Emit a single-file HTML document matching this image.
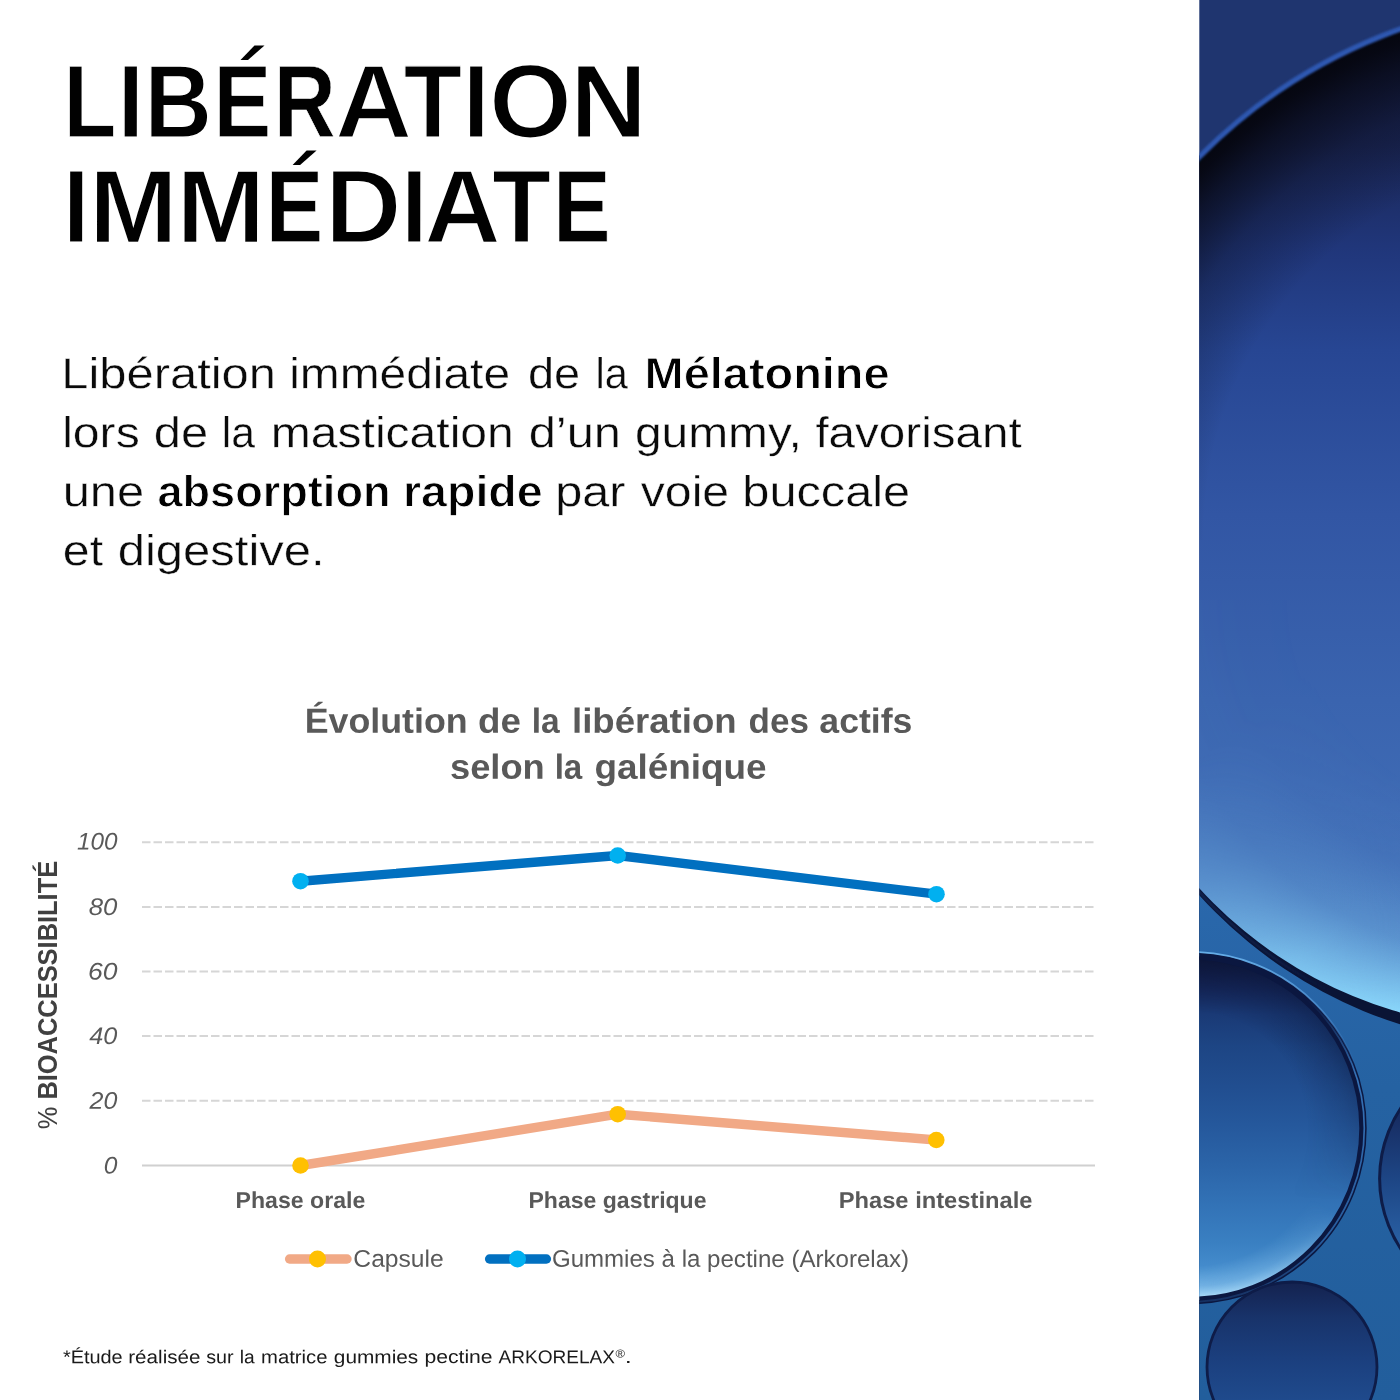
<!DOCTYPE html>
<html lang="fr">
<head>
<meta charset="utf-8">
<title>Libération immédiate</title>
<style>
html,body{margin:0;padding:0;background:#fff;}
body{width:1400px;height:1400px;overflow:hidden;font-family:"Liberation Sans",sans-serif;}
svg{display:block;position:absolute;left:0;top:0;}
text{font-family:"Liberation Sans",sans-serif;}
.h1{font-weight:700;fill:#000;}
.p{font-size:42.5px;fill:#0a0a0a;}
.pb{font-size:42.5px;font-weight:700;fill:#000;}
.ct{font-size:35px;font-weight:700;fill:#595959;}
.yl{font-size:24px;font-style:italic;fill:#595959;}
.xl{font-size:23px;font-weight:700;fill:#595959;}
.lg{font-size:24px;fill:#595959;}
.ya{font-size:27.3px;font-weight:700;fill:#404040;}
.fn{fill:#1a1a1a;}
</style>
</head>
<body>
<svg width="1400" height="1400" viewBox="0 0 1400 1400">
<defs>
<clipPath id="clipPhoto"><rect x="1199.3" y="0" width="201" height="1400"/></clipPath>
<clipPath id="clipLow"><rect x="1199" y="850" width="201" height="550"/></clipPath>
<clipPath id="clipB1"><circle cx="1581" cy="535" r="538"/></clipPath>
<clipPath id="clipB1l"><circle cx="1528" cy="593" r="444"/></clipPath>
<clipPath id="clipB2"><circle cx="1190.7" cy="1128.2" r="172"/></clipPath>
<clipPath id="clipB3"><circle cx="1292" cy="1367" r="85"/></clipPath>
<clipPath id="clipB4"><circle cx="1507" cy="1178.5" r="127.4"/></clipPath>
<filter id="bl3" x="-20%" y="-20%" width="140%" height="140%"><feGaussianBlur stdDeviation="3"/></filter>
<filter id="bl1" x="-20%" y="-20%" width="140%" height="140%"><feGaussianBlur stdDeviation="1.2"/></filter>
<filter id="bl8" x="-20%" y="-20%" width="140%" height="140%"><feGaussianBlur stdDeviation="8"/></filter>
<filter id="bl20" x="-20%" y="-20%" width="140%" height="140%"><feGaussianBlur stdDeviation="20"/></filter>
<!-- big bubble interior vertical gradient -->
<linearGradient id="gB1" gradientUnits="userSpaceOnUse" x1="0" y1="0" x2="0" y2="1030">
<stop offset="0" stop-color="#141b40"/>
<stop offset="0.14" stop-color="#1a2656"/>
<stop offset="0.24" stop-color="#20367a"/>
<stop offset="0.34" stop-color="#274693"/>
<stop offset="0.50" stop-color="#3256a4"/>
<stop offset="0.68" stop-color="#3a64af"/>
<stop offset="0.78" stop-color="#3e6ab4"/>
<stop offset="1" stop-color="#4270b8"/>
</linearGradient>
<!-- radial dark shadow below upper rim -->
<radialGradient id="gB1sh" gradientUnits="userSpaceOnUse" cx="1581" cy="535" r="538">
<stop offset="0" stop-color="#05060f" stop-opacity="0"/>
<stop offset="0.70" stop-color="#05060f" stop-opacity="0"/>
<stop offset="0.84" stop-color="#05060f" stop-opacity="0.3"/>
<stop offset="0.93" stop-color="#05060f" stop-opacity="0.68"/>
<stop offset="0.975" stop-color="#05060f" stop-opacity="0.93"/>
<stop offset="1" stop-color="#05060f" stop-opacity="1"/>
</radialGradient>
<!-- radial glow above lower rim -->
<radialGradient id="gB1gl" gradientUnits="userSpaceOnUse" cx="1517.7" cy="598.1" r="430.8">
<stop offset="0" stop-color="#8ad6fa" stop-opacity="0"/>
<stop offset="0.488" stop-color="#8ad6fa" stop-opacity="0"/>
<stop offset="0.674" stop-color="#8ad6fa" stop-opacity="0.1"/>
<stop offset="0.837" stop-color="#8ad6fa" stop-opacity="0.4"/>
<stop offset="0.930" stop-color="#8ad6fa" stop-opacity="0.75"/>
<stop offset="0.986" stop-color="#8ad6fa" stop-opacity="0.95"/>
<stop offset="1" stop-color="#8ad6fa" stop-opacity="1"/>
</radialGradient>
<linearGradient id="gGlMask" gradientUnits="userSpaceOnUse" x1="1199" y1="760" x2="1400" y2="1010">
<stop offset="0" stop-color="#fff" stop-opacity="0.08"/>
<stop offset="0.31" stop-color="#fff" stop-opacity="0.36"/>
<stop offset="0.68" stop-color="#fff" stop-opacity="0.8"/>
<stop offset="1" stop-color="#fff" stop-opacity="1"/>
</linearGradient>
<mask id="mGl" maskUnits="userSpaceOnUse" x="1199" y="600" width="201" height="460"><rect x="1199" y="600" width="201" height="460" fill="url(#gGlMask)"/></mask>
<clipPath id="clipBandIn"><path clip-rule="evenodd" d="M1199 850H1400V1400H1199Z M1947.4 598.1A429.7 429.7 0 1 0 1088 598.1A429.7 429.7 0 1 0 1947.4 598.1Z"/></clipPath>
<linearGradient id="gStreak" gradientUnits="userSpaceOnUse" x1="1199" y1="0" x2="1340" y2="0">
<stop offset="0" stop-color="#24488c" stop-opacity="0.5"/>
<stop offset="0.6" stop-color="#1c3c7c" stop-opacity="0.3"/>
<stop offset="1" stop-color="#1c3c7c" stop-opacity="0"/>
</linearGradient>
<linearGradient id="gLow" gradientUnits="userSpaceOnUse" x1="0" y1="880" x2="0" y2="1400">
<stop offset="0" stop-color="#2a68ac"/>
<stop offset="0.4" stop-color="#2562a2"/>
<stop offset="1" stop-color="#225e9c"/>
</linearGradient>
<linearGradient id="gB2" gradientUnits="userSpaceOnUse" x1="0" y1="956" x2="0" y2="1300">
<stop offset="0" stop-color="#0e1638"/>
<stop offset="0.023" stop-color="#101a40"/>
<stop offset="0.093" stop-color="#15275a"/>
<stop offset="0.17" stop-color="#1a3a76"/>
<stop offset="0.26" stop-color="#1d4584"/>
<stop offset="0.38" stop-color="#214e90"/>
<stop offset="0.49" stop-color="#25589c"/>
<stop offset="0.605" stop-color="#2b64a8"/>
<stop offset="0.72" stop-color="#3272b6"/>
<stop offset="0.835" stop-color="#3a80c2"/>
<stop offset="0.93" stop-color="#4890d0"/>
<stop offset="1" stop-color="#5098d6"/>
</linearGradient>
<radialGradient id="gB2gl" gradientUnits="userSpaceOnUse" cx="1190.7" cy="1128.2" r="172">
<stop offset="0" stop-color="#b4e2fb" stop-opacity="0"/>
<stop offset="0.8" stop-color="#a4d8f8" stop-opacity="0"/>
<stop offset="0.92" stop-color="#a4d8f8" stop-opacity="0.45"/>
<stop offset="1" stop-color="#b8e4fc" stop-opacity="1"/>
</radialGradient>
<linearGradient id="gB2mask" gradientUnits="userSpaceOnUse" x1="1330" y1="1120" x2="1215" y2="1300">
<stop offset="0" stop-color="#000"/>
<stop offset="0.35" stop-color="#000"/>
<stop offset="0.7" stop-color="#888"/>
<stop offset="1" stop-color="#fff"/>
</linearGradient>
<mask id="mB2" maskUnits="userSpaceOnUse" x="1199" y="940" width="201" height="380"><rect x="1199" y="940" width="201" height="380" fill="url(#gB2mask)"/></mask>
<linearGradient id="gB2hl" gradientUnits="userSpaceOnUse" x1="0" y1="952" x2="0" y2="1075">
<stop offset="0" stop-color="#66aee8" stop-opacity="1"/>
<stop offset="0.45" stop-color="#4f92d4" stop-opacity="0.8"/>
<stop offset="1" stop-color="#2f6cb2" stop-opacity="0"/>
</linearGradient>
<linearGradient id="gB2mid" gradientUnits="userSpaceOnUse" x1="0" y1="1000" x2="0" y2="1300">
<stop offset="0" stop-color="#2f6cb2" stop-opacity="0"/>
<stop offset="0.25" stop-color="#3a7cc4" stop-opacity="0.9"/>
<stop offset="0.8" stop-color="#2f6cb2" stop-opacity="0.8"/>
<stop offset="1" stop-color="#2f6cb2" stop-opacity="0.3"/>
</linearGradient>
<radialGradient id="gB2sh" gradientUnits="userSpaceOnUse" cx="1190.7" cy="1128.2" r="172">
<stop offset="0" stop-color="#0a1436" stop-opacity="0"/>
<stop offset="0.68" stop-color="#0a1436" stop-opacity="0"/>
<stop offset="0.9" stop-color="#0a1436" stop-opacity="0.3"/>
<stop offset="1" stop-color="#0a1436" stop-opacity="0.5"/>
</radialGradient>
<linearGradient id="gB2shm" gradientUnits="userSpaceOnUse" x1="0" y1="1040" x2="0" y2="1200">
<stop offset="0" stop-color="#fff" stop-opacity="1"/>
<stop offset="1" stop-color="#fff" stop-opacity="0"/>
</linearGradient>
<mask id="mB2sh" maskUnits="userSpaceOnUse" x="1199" y="940" width="201" height="380"><rect x="1199" y="940" width="201" height="380" fill="url(#gB2shm)"/></mask>
<linearGradient id="gB3" gradientUnits="userSpaceOnUse" x1="0" y1="1282" x2="0" y2="1400">
<stop offset="0" stop-color="#14224f"/>
<stop offset="0.3" stop-color="#18336a"/>
<stop offset="0.65" stop-color="#1b3f7e"/>
<stop offset="1" stop-color="#1f4a8c"/>
</linearGradient>
<linearGradient id="gB4" gradientUnits="userSpaceOnUse" x1="0" y1="1105" x2="0" y2="1250">
<stop offset="0" stop-color="#16285c"/>
<stop offset="0.5" stop-color="#1d4584"/>
<stop offset="1" stop-color="#2a62a6"/>
</linearGradient>
</defs>
<rect x="0" y="0" width="1400" height="1400" fill="#ffffff"/>
<!-- PHOTO: blue bubbles -->
<g id="photo" clip-path="url(#clipPhoto)">
<rect x="1199" y="0" width="201" height="1400" fill="#1f356f"/>
<!-- big bubble -->
<g clip-path="url(#clipB1)">
<rect x="1199" y="0" width="201" height="1060" fill="url(#gB1)"/>
<rect x="1199" y="0" width="201" height="540" fill="url(#gB1sh)"/>
<rect x="1199" y="600" width="201" height="460" fill="url(#gB1gl)" mask="url(#mGl)"/>
</g>
<circle cx="1581" cy="535" r="537.2" fill="none" stroke="#2e58b2" stroke-width="5.2" filter="url(#bl1)"/>
<!-- lower background: outside lower arc -->
<g clip-path="url(#clipLow)">
<path fill-rule="evenodd" fill="#0a1435" d="M1199 850H1400V1400H1199Z M1948.5 598.1A430.8 430.8 0 1 0 1086.9 598.1A430.8 430.8 0 1 0 1948.5 598.1Z"/>
<circle cx="1527.7" cy="593.85" r="443.6" fill="none" stroke="url(#gStreak)" stroke-width="1.6" filter="url(#bl1)"/>
<path fill-rule="evenodd" fill="url(#gLow)" d="M1199 850H1400V1400H1199Z M1993.7 589.6A456 456 0 1 0 1081.7 589.6A456 456 0 1 0 1993.7 589.6Z"/>
</g>
<!-- bubble 2 -->
<g clip-path="url(#clipB2)">
<rect x="1199" y="940" width="201" height="380" fill="url(#gB2)"/>
<rect x="1199" y="940" width="201" height="380" fill="url(#gB2sh)" mask="url(#mB2sh)"/>
<rect x="1199" y="940" width="201" height="380" fill="url(#gB2gl)" mask="url(#mB2)"/>
</g>
<circle cx="1190.7" cy="1128.2" r="172.3" fill="none" stroke="#0b1740" stroke-width="7.4"/>
<circle cx="1190.7" cy="1128.2" r="173.6" fill="none" stroke="url(#gB2mid)" stroke-width="1.7"/>
<circle cx="1190.7" cy="1128.2" r="176.2" fill="none" stroke="url(#gB2hl)" stroke-width="1.8"/>
<!-- bubble 3 -->
<g clip-path="url(#clipB3)">
<rect x="1199" y="1270" width="201" height="130" fill="url(#gB3)"/>
</g>
<circle cx="1292" cy="1367" r="85" fill="none" stroke="#0e1c48" stroke-width="2.8"/>
<!-- bubble 4 -->
<g clip-path="url(#clipB4)">
<rect x="1370" y="1040" width="40" height="280" fill="url(#gB4)"/>
</g>
<circle cx="1507" cy="1178.5" r="127.4" fill="none" stroke="#0e1c48" stroke-width="3"/>
</g>

<g opacity="0.999">
<!-- TEXT -->
<g class="h1" font-size="100" stroke="#fff" stroke-linejoin="miter">
<text stroke-width="0.600" transform="translate(64.06 136.76) scale(0.8498 1.0257) rotate(0.03)">L</text>
<text stroke-width="1.600" transform="translate(117.56 137.28) scale(0.9528 1.0409) rotate(0.03)">I</text>
<text stroke-width="1.340" transform="translate(144.53 137.14) scale(0.9338 1.0369) rotate(0.03)">B</text>
<text stroke-width="0.600" transform="translate(213.69 136.76) scale(0.8594 1.0257) rotate(0.03)">E</text>
<text stroke-width="0.600" transform="translate(274.04 136.76) scale(0.8525 1.0257) rotate(0.03)">R</text>
<text stroke-width="1.800" transform="translate(334.98 137.39) scale(1.0691 1.0440) rotate(0.03)">A</text>
<text stroke-width="1.200" transform="translate(403.76 137.07) scale(0.9517 1.0348) rotate(0.03)">T</text>
<text stroke-width="1.600" transform="translate(462.92 137.28) scale(0.9450 1.0409) rotate(0.03)">I</text>
<text stroke-width="2.200" transform="translate(488.73 137.61) scale(1.0716 1.0503) rotate(0.03)">O</text>
<text stroke-width="1.700" transform="translate(570.30 137.34) scale(1.0615 1.0425) rotate(0.03)">N</text>
<text stroke-width="1.600" transform="translate(62.92 242.33) scale(0.9450 1.0409) rotate(0.03)">I</text>
<text stroke-width="1.700" transform="translate(89.08 242.39) scale(1.0642 1.0425) rotate(0.03)">M</text>
<text stroke-width="1.700" transform="translate(176.59 242.39) scale(1.0627 1.0425) rotate(0.03)">M</text>
<text stroke-width="0.600" transform="translate(266.12 241.81) scale(0.8558 1.0257) rotate(0.03)">E</text>
<text stroke-width="2.000" transform="translate(324.95 242.55) scale(1.0602 1.0472) rotate(0.03)">D</text>
<text stroke-width="1.600" transform="translate(401.28 242.33) scale(0.9372 1.0409) rotate(0.03)">I</text>
<text stroke-width="1.800" transform="translate(424.31 242.44) scale(1.0599 1.0440) rotate(0.03)">A</text>
<text stroke-width="1.200" transform="translate(492.35 242.12) scale(0.9586 1.0348) rotate(0.03)">T</text>
<text stroke-width="0.600" transform="translate(553.31 241.81) scale(0.8576 1.0257) rotate(0.03)">E</text>
</g>
<polygon fill="#000" points="254.5,45.5 264.5,45.5 248,60 240.5,60"/>
<polygon fill="#000" points="306.6,150.5 316.6,150.5 300.1,165 292.6,165"/>
<text class="p" font-size="42.5" stroke="#fff" stroke-width="0.40" transform="translate(61.35 388.20) scale(1.1498 1.0181) rotate(0.03)">Libération</text>
<text class="p" font-size="42.5" stroke="#fff" stroke-width="0.40" transform="translate(289.18 388.20) scale(1.1272 1.0181) rotate(0.03)">immédiate</text>
<text class="p" font-size="42.5" stroke="#fff" stroke-width="0.40" transform="translate(527.91 388.20) scale(1.1045 1.0181) rotate(0.03)">de</text>
<text class="p" font-size="42.5" stroke="#fff" stroke-width="0.40" transform="translate(595.61 388.20) scale(0.9772 1.0181) rotate(0.03)">la</text>
<text class="pb" font-size="42.5" stroke="#fff" stroke-width="0.84" transform="translate(644.60 388.44) scale(1.1039 1.0389) rotate(0.03)">Mélatonine</text>
<text class="p" font-size="42.5" stroke="#fff" stroke-width="0.40" transform="translate(62.16 447.20) scale(1.1327 1.0181) rotate(0.03)">lors</text>
<text class="p" font-size="42.5" stroke="#fff" stroke-width="0.40" transform="translate(153.84 447.20) scale(1.1501 1.0181) rotate(0.03)">de</text>
<text class="p" font-size="42.5" stroke="#fff" stroke-width="0.40" transform="translate(221.73 447.20) scale(1.0036 1.0181) rotate(0.03)">la</text>
<text class="p" font-size="42.5" stroke="#fff" stroke-width="0.40" transform="translate(270.77 447.20) scale(1.1312 1.0181) rotate(0.03)">mastication</text>
<text class="p" font-size="42.5" stroke="#fff" stroke-width="0.40" transform="translate(528.64 447.20) scale(1.1490 1.0181) rotate(0.03)">d’un</text>
<text class="p" font-size="42.5" stroke="#fff" stroke-width="0.40" transform="translate(634.88 447.20) scale(1.1280 1.0181) rotate(0.03)">gummy,</text>
<text class="p" font-size="42.5" stroke="#fff" stroke-width="0.40" transform="translate(815.38 447.20) scale(1.1196 1.0181) rotate(0.03)">favorisant</text>
<text class="p" font-size="42.5" stroke="#fff" stroke-width="0.40" transform="translate(62.72 506.20) scale(1.1492 1.0181) rotate(0.03)">une</text>
<text class="pb" font-size="42.5" stroke="#fff" stroke-width="0.84" transform="translate(157.45 506.44) scale(1.0619 1.0389) rotate(0.03)">absorption</text>
<text class="pb" font-size="42.5" stroke="#fff" stroke-width="0.84" transform="translate(403.03 506.44) scale(1.0944 1.0389) rotate(0.03)">rapide</text>
<text class="p" font-size="42.5" stroke="#fff" stroke-width="0.40" transform="translate(555.13 506.20) scale(1.1451 1.0181) rotate(0.03)">par</text>
<text class="p" font-size="42.5" stroke="#fff" stroke-width="0.40" transform="translate(640.77 506.20) scale(1.1339 1.0181) rotate(0.03)">voie</text>
<text class="p" font-size="42.5" stroke="#fff" stroke-width="0.40" transform="translate(742.33 506.20) scale(1.1460 1.0181) rotate(0.03)">buccale</text>
<text class="p" font-size="42.5" stroke="#fff" stroke-width="0.40" transform="translate(62.87 565.20) scale(1.1340 1.0181) rotate(0.03)">et</text>
<text class="p" font-size="42.5" stroke="#fff" stroke-width="0.40" transform="translate(117.64 565.20) scale(1.1530 1.0181) rotate(0.03)">digestive.</text>
<text class="ct" font-size="35" transform="translate(304.66 732.70) scale(1.0228 1.0000) rotate(0.03)">Évolution</text>
<text class="ct" font-size="35" transform="translate(478.05 732.70) scale(1.0494 1.0000) rotate(0.03)">de</text>
<text class="ct" font-size="35" transform="translate(531.80 732.70) scale(0.9587 1.0000) rotate(0.03)">la</text>
<text class="ct" font-size="35" transform="translate(572.01 732.70) scale(1.0453 1.0000) rotate(0.03)">libération</text>
<text class="ct" font-size="35" transform="translate(748.61 732.70) scale(1.0000 1.0000) rotate(0.03)">des</text>
<text class="ct" font-size="35" transform="translate(819.34 732.70) scale(1.0172 1.0000) rotate(0.03)">actifs</text>
<text class="ct" font-size="35" transform="translate(449.97 778.70) scale(1.0369 1.0000) rotate(0.03)">selon</text>
<text class="ct" font-size="35" transform="translate(554.63 778.70) scale(0.9477 1.0000) rotate(0.03)">la</text>
<text class="ct" font-size="35" transform="translate(594.45 778.70) scale(1.0539 1.0000) rotate(0.03)">galénique</text>
<text class="xl" font-size="23" transform="translate(235.59 1208.00) scale(1.0044 1.0000) rotate(0.03)">Phase orale</text>
<text class="xl" font-size="23" transform="translate(528.50 1208.00) scale(1.0024 1.0000) rotate(0.03)">Phase gastrique</text>
<text class="xl" font-size="23" transform="translate(838.65 1208.00) scale(1.0317 1.0000) rotate(0.03)">Phase intestinale</text>
<text class="lg" font-size="24" transform="translate(353.37 1266.80) scale(1.0256 1.0000) rotate(0.03)">Capsule</text>
<text class="lg" font-size="24" transform="translate(551.90 1266.80) scale(1.0036 1.0000) rotate(0.03)">Gummies à la pectine (Arkorelax)</text>
<text class="yl" font-size="24" transform="translate(76.89 849.60) scale(1.0116 1.0000) rotate(0.03)">100</text>
<text class="yl" font-size="24" transform="translate(88.76 914.90) scale(1.0733 1.0000) rotate(0.03)">80</text>
<text class="yl" font-size="24" transform="translate(87.97 979.50) scale(1.1031 1.0000) rotate(0.03)">60</text>
<text class="yl" font-size="24" transform="translate(89.29 1044.10) scale(1.0530 1.0000) rotate(0.03)">40</text>
<text class="yl" font-size="24" transform="translate(89.61 1108.80) scale(1.0412 1.0000) rotate(0.03)">20</text>
<text class="yl" font-size="24" transform="translate(103.73 1173.40) scale(1.0246 1.0000) rotate(0.03)">0</text>
<text class="fn" font-size="18.5" transform="translate(62.88 1363.20) scale(1.0778 1.0000) rotate(0.03)">*Étude</text>
<text class="fn" font-size="18.5" transform="translate(128.26 1363.20) scale(1.1147 1.0000) rotate(0.03)">réalisée</text>
<text class="fn" font-size="18.5" transform="translate(206.17 1363.20) scale(1.0666 1.0000) rotate(0.03)">sur</text>
<text class="fn" font-size="18.5" transform="translate(239.76 1363.20) scale(1.0371 1.0000) rotate(0.03)">la</text>
<text class="fn" font-size="18.5" transform="translate(261.08 1363.20) scale(1.0961 1.0000) rotate(0.03)">matrice</text>
<text class="fn" font-size="18.5" transform="translate(333.81 1363.20) scale(1.1262 1.0000) rotate(0.03)">gummies</text>
<text class="fn" font-size="18.5" transform="translate(424.44 1363.20) scale(1.1425 1.0000) rotate(0.03)">pectine</text>
<text class="fn" font-size="18.5" transform="translate(498.60 1363.20) scale(1.0297 1.0000) rotate(0.03)">ARKORELAX</text>
<text class="fn" font-size="11.5" transform="translate(615.49 1357.60) scale(1.1220 1.0000) rotate(0.03)">®</text>
<text class="fn" font-size="18.5" transform="translate(624.71 1363.20) scale(1.3684 1.0000) rotate(0.03)">.</text>
<!-- GRID -->
<g stroke="#d6d6d6" stroke-width="2" stroke-dasharray="8.5 3" fill="none">
<line x1="142" y1="842.2" x2="1095" y2="842.2"/>
<line x1="142" y1="906.9" x2="1095" y2="906.9"/>
<line x1="142" y1="971.5" x2="1095" y2="971.5"/>
<line x1="142" y1="1036.1" x2="1095" y2="1036.1"/>
<line x1="142" y1="1100.8" x2="1095" y2="1100.8"/>
</g>
<line x1="142" y1="1165.4" x2="1095" y2="1165.4" stroke="#d0d0d0" stroke-width="2"/>

<!-- Y AXIS TITLE -->
<text class="ya" transform="translate(56.9 1129.3) rotate(-90)" textLength="268.5" lengthAdjust="spacingAndGlyphs"><tspan font-weight="400">%</tspan> BIOACCESSIBILITÉ</text>

<!-- SERIES -->
<polyline points="300.5,881.2 617.7,855.5 936.5,894.2" fill="none" stroke="#0070c0" stroke-width="9.4" stroke-linejoin="round" stroke-linecap="round"/>
<polyline points="300.5,1165.5 617.7,1114.2 936.3,1140" fill="none" stroke="#f1a986" stroke-width="9.4" stroke-linejoin="round" stroke-linecap="round"/>
<g fill="#00b0f0">
<circle cx="300.5" cy="881.2" r="8.3"/><circle cx="617.7" cy="855.5" r="8.3"/><circle cx="936.5" cy="894.2" r="8.3"/>
</g>
<g fill="#ffc000">
<circle cx="300.5" cy="1165.5" r="8.3"/><circle cx="617.7" cy="1114.2" r="8.3"/><circle cx="936.3" cy="1140" r="8.3"/>
</g>

<!-- LEGEND -->
<line x1="289.6" y1="1259" x2="347" y2="1259" stroke="#f1a986" stroke-width="9.4" stroke-linecap="round"/>
<circle cx="317.5" cy="1259" r="8.5" fill="#ffc000"/>
<line x1="489.6" y1="1259" x2="546.4" y2="1259" stroke="#0070c0" stroke-width="9.4" stroke-linecap="round"/>
<circle cx="517.5" cy="1259" r="8.5" fill="#00b0f0"/>

</g>
</svg>
</body>
</html>
